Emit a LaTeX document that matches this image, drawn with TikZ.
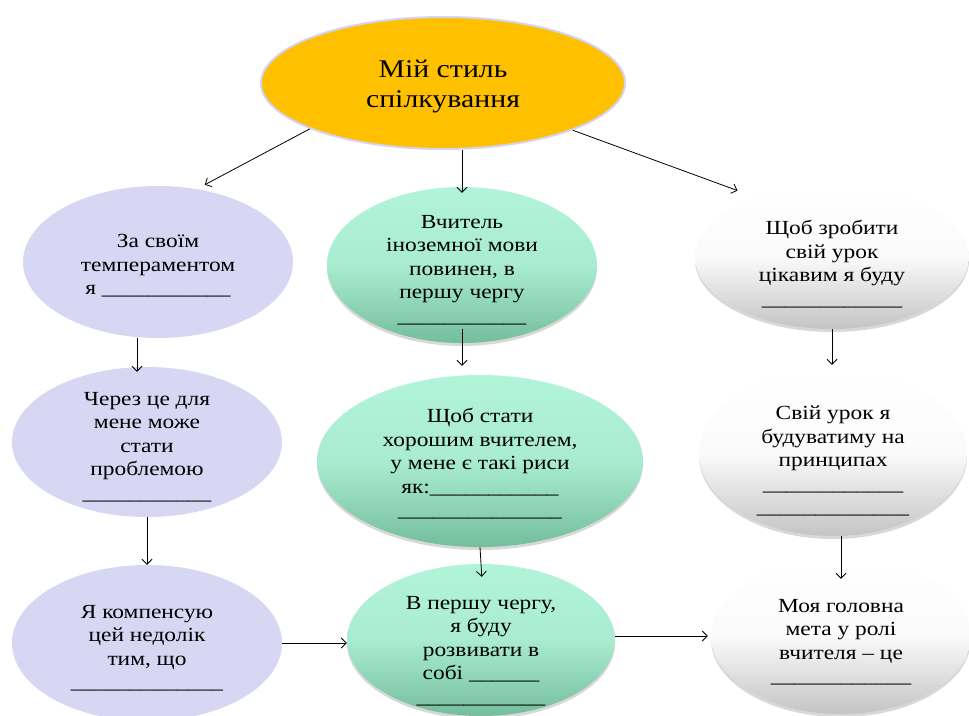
\documentclass[tikz,border=0pt]{standalone}
\usepackage{fontspec}
\setmainfont{Liberation Serif}[FakeStretch=1.17]
\usetikzlibrary{shapes.geometric,arrows.meta,shadows,calc}
\definecolor{lav}{HTML}{D7D7F4}
\definecolor{orng}{HTML}{FFC000}
\definecolor{rim}{HTML}{D4D4F2}
\definecolor{mintT}{HTML}{B2F4DA}
\definecolor{mintB}{HTML}{74BE9C}
\definecolor{grayB}{HTML}{C4C4C4}
\newcommand{\us}{\_}
\begin{document}
\begin{tikzpicture}[x=1pt,y=-1pt,
  base/.style={ellipse, inner sep=0pt, draw=none},
  lavnode/.style={base, fill=lav},
  greennode/.style={base, top color=mintT, bottom color=mintB, middle color=mintT!85!mintB,
     drop shadow={shadow xshift=0pt, shadow yshift=-3pt, opacity=0.3}},
  whitenode/.style={base, top color=white, bottom color=grayB, middle color=white!92!grayB,
     drop shadow={shadow xshift=0pt, shadow yshift=-3pt, opacity=0.3}},
  txt/.style={align=center, font=\fontsize{20}{23.5}\selectfont, inner sep=0pt},
  arr/.style={-{Straight Barb[length=5pt,width=10pt]}, line width=0.8pt}
]
\useasboundingbox (0,0) rectangle (969,715);
\fill[white] (0,0) rectangle (969,715);

% ellipses
\node[base, fill=orng, draw=rim, line width=2pt, minimum width=364pt, minimum height=132pt] (top) at (443,83) {};
\node[lavnode, minimum width=270pt, minimum height=152pt] (l1) at (158,262) {};
\node[lavnode, minimum width=270pt, minimum height=150pt] (l2) at (147,442) {};
\node[lavnode, minimum width=270pt, minimum height=156pt] (l3) at (147,643) {};
\node[greennode, minimum width=270pt, minimum height=156pt] (m1) at (462,265) {};
\node[greennode, minimum width=326pt, minimum height=172pt] (m2) at (480,461) {};
\node[greennode, minimum width=268pt, minimum height=152pt] (m3) at (481,640) {};
\node[whitenode, minimum width=274pt, minimum height=144pt] (r1) at (832,257) {};
\node[whitenode, minimum width=268pt, minimum height=166pt] (r2) at (833,453) {};
\node[whitenode, minimum width=260pt, minimum height=156pt] (r3) at (841,636) {};

% texts
\node[txt, font=\fontsize{25.5}{30}\selectfont] (topt) at (443,87) {Мій стиль\\спілкування};
\node[txt] (l1t) at (158,266) {За своїм\\темпераментом\\я \us\us\us\us\us\us\us\us\us\us\us};
\node[txt] (l2t) at (147,447) {Через це для\\мене може\\стати\\проблемою\\\us\us\us\us\us\us\us\us\us\us\us};
\node[txt] (l3t) at (147,648) {Я компенсую\\цей недолік\\тим, що\\\us\us\us\us\us\us\us\us\us\us\us\us\us};
\node[txt] (m1t) at (462,270) {Вчитель\\іноземної мови\\повинен, в\\першу чергу\\\us\us\us\us\us\us\us\us\us\us\us};
\node[txt] (m2t) at (480,464) {Щоб стати\\хорошим вчителем,\\у мене є такі риси\\як:\us\us\us\us\us\us\us\us\us\us\us\\\us\us\us\us\us\us\us\us\us\us\us\us\us\us};
\node[txt] (m3t) at (481,651) {В першу чергу,\\я буду\\розвивати в\\собі \us\us\us\us\us\us\\\us\us\us\us\us\us\us\us\us\us\us};
\node[txt] (r1t) at (832,264) {Щоб зробити\\свій урок\\цікавим я буду\\\us\us\us\us\us\us\us\us\us\us\us\us};
\node[txt] (r2t) at (833,461) {Свій урок я\\будуватиму на\\принципах\\\us\us\us\us\us\us\us\us\us\us\us\us\\\us\us\us\us\us\us\us\us\us\us\us\us\us};
\node[txt] (r3t) at (841,642) {Моя головна\\мета у ролі\\вчителя – це\\\us\us\us\us\us\us\us\us\us\us\us\us};

% connectors
\draw[arr, shorten >=9pt] (top.199) -- (l1.62);
\draw[arr, shorten >=-6pt] (top.south -| m1.north) -- (m1.north);
\draw[arr, shorten >=19pt] (top.340) -- (r1.142);
\draw[arr, shorten >=-5pt] ([xshift=-21pt]l1.south) -- ([xshift=-10pt]l2.north);
\draw[arr] (l2.south) -- (l3.north);
\draw[arr, shorten <=-14pt, shorten >=9pt] (m1.south) -- (m1.south |- m2.north);
\draw[arr, shorten >=-13pt] (m2.south) -- (m3.north);
\draw[arr, shorten >=5pt] (r1.south) -- (r1.south |- r2.north);
\draw[arr, shorten >=-21pt] (r3.north |- r2.south) -- (r3.north);
\draw[arr] (l3.east) -- (l3.east -| m3.west);
\draw[arr, shorten >=3pt] (m3.east |- r3.west) -- (r3.west);
\end{tikzpicture}
\end{document}
